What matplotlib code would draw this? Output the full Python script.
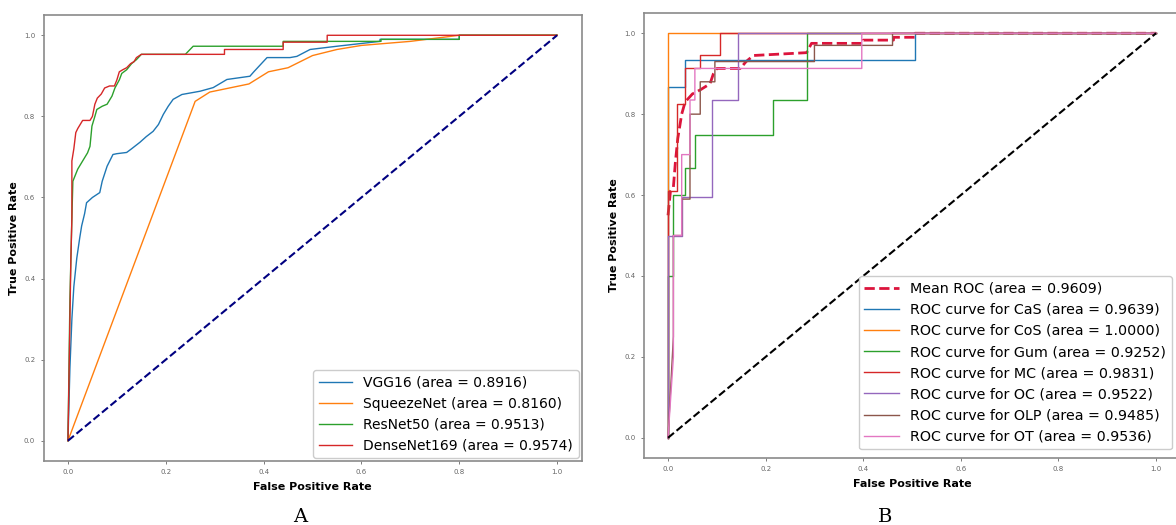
import matplotlib
matplotlib.use("Agg")
import matplotlib.pyplot as plt

# --- panel A: ROC curves of the four CNN backbones ---
vgg_fpr = [0, 0.004, 0.008, 0.012, 0.018, 0.024, 0.028, 0.034, 0.038, 0.05, 0.065, 0.07, 0.08, 0.092,
           0.1, 0.12, 0.13, 0.147, 0.16, 0.174, 0.185, 0.195, 0.205, 0.215, 0.233, 0.27, 0.297, 0.325,
           0.372, 0.38, 0.407, 0.454, 0.468, 0.495, 0.55, 0.638, 0.638, 0.80, 0.80, 1.0]
vgg_tpr = [0, 0.18, 0.30, 0.38, 0.45, 0.50, 0.53, 0.56, 0.587, 0.60, 0.612, 0.64, 0.677, 0.706,
           0.708, 0.711, 0.72, 0.736, 0.75, 0.763, 0.78, 0.805, 0.825, 0.842, 0.854, 0.862, 0.871, 0.891,
           0.899, 0.91, 0.945, 0.945, 0.948, 0.965, 0.973, 0.985, 0.99, 0.99, 1.0, 1.0]

squeeze_fpr = [0, 0.26, 0.29, 0.33, 0.37, 0.41, 0.45, 0.5, 0.55, 0.6, 0.7, 0.8, 1.0]
squeeze_tpr = [0, 0.837, 0.86, 0.87, 0.88, 0.91, 0.92, 0.95, 0.965, 0.975, 0.985, 1.0, 1.0]

resnet_fpr = [0, 0.004, 0.008, 0.01, 0.02, 0.03, 0.04, 0.045, 0.049, 0.055, 0.059, 0.07, 0.08, 0.09,
              0.096, 0.105, 0.11, 0.12, 0.13, 0.14, 0.15, 0.24, 0.256, 0.44, 0.44, 0.64, 0.64, 0.80,
              0.80, 1.0]
resnet_tpr = [0, 0.35, 0.55, 0.64, 0.67, 0.69, 0.71, 0.726, 0.776, 0.80, 0.817, 0.825, 0.83, 0.85,
              0.87, 0.89, 0.906, 0.915, 0.93, 0.94, 0.953, 0.953, 0.973, 0.973, 0.985, 0.985, 0.99, 0.99,
              1.0, 1.0]

dense_fpr = [0, 0.004, 0.006, 0.008, 0.008, 0.012, 0.016, 0.02, 0.03, 0.045, 0.05, 0.055, 0.06, 0.068,
             0.075, 0.085, 0.095, 0.1, 0.105, 0.112, 0.12, 0.128, 0.135, 0.14, 0.15, 0.32, 0.32, 0.44,
             0.44, 0.53, 0.53, 1.0]
dense_tpr = [0, 0.30, 0.45, 0.55, 0.69, 0.72, 0.76, 0.77, 0.79, 0.79, 0.80, 0.83, 0.845, 0.855,
             0.87, 0.875, 0.875, 0.89, 0.91, 0.915, 0.92, 0.93, 0.935, 0.945, 0.953, 0.953, 0.965, 0.965,
             0.983, 0.983, 1.0, 1.0]

model_names = ["VGG16", "SqueezeNet", "ResNet50", "DenseNet169"]
model_auc = [0.8916, 0.8160, 0.9513, 0.9574]

# --- panel B: per-class ROC curves ---
mean_fpr = [0, 0.005, 0.011, 0.015, 0.02, 0.028, 0.035, 0.05, 0.066, 0.086, 0.093, 0.1, 0.148, 0.16,
            0.175, 0.284, 0.294, 0.40, 0.40, 0.462, 0.462, 0.506, 0.506, 1.0]
mean_tpr = [0.55, 0.61, 0.62, 0.68, 0.74, 0.80, 0.83, 0.85, 0.86, 0.875, 0.90, 0.913, 0.913, 0.93,
            0.945, 0.952, 0.975, 0.975, 0.983, 0.983, 0.99, 0.99, 1.0, 1.0]

cas_fpr = [0, 0, 0.035, 0.035, 0.506, 0.506, 1.0]
cas_tpr = [0, 0.867, 0.867, 0.933, 0.933, 1.0, 1.0]

cos_fpr = [0, 0, 1.0]
cos_tpr = [0, 1.0, 1.0]

gum_fpr = [0, 0, 0.011, 0.011, 0.035, 0.035, 0.055, 0.055, 0.216, 0.216, 0.284, 0.284, 1.0]
gum_tpr = [0, 0.4, 0.4, 0.6, 0.6, 0.666, 0.666, 0.748, 0.748, 0.835, 0.835, 1.0, 1.0]

mc_fpr = [0, 0, 0.018, 0.018, 0.035, 0.035, 0.066, 0.066, 0.107, 0.107, 1.0]
mc_tpr = [0, 0.61, 0.61, 0.826, 0.826, 0.913, 0.913, 0.946, 0.946, 1.0, 1.0]

oc_fpr = [0, 0, 0.028, 0.028, 0.09, 0.09, 0.144, 0.144, 1.0]
oc_tpr = [0, 0.5, 0.5, 0.596, 0.596, 0.835, 0.835, 1.0, 1.0]

olp_fpr = [0, 0.011, 0.011, 0.028, 0.028, 0.045, 0.045, 0.066, 0.066, 0.096, 0.096, 0.30, 0.30,
           0.46, 0.46, 1.0]
olp_tpr = [0, 0.25, 0.5, 0.5, 0.59, 0.59, 0.8, 0.8, 0.88, 0.88, 0.93, 0.93, 0.97, 0.97, 1.0, 1.0]

ot_fpr = [0, 0.011, 0.011, 0.028, 0.028, 0.045, 0.045, 0.055, 0.055, 0.397, 0.397, 1.0]
ot_tpr = [0, 0.2, 0.5, 0.5, 0.7, 0.7, 0.835, 0.835, 0.913, 0.913, 1.0, 1.0]

class_names = ["CaS", "CoS", "Gum", "MC", "OC", "OLP", "OT"]
class_auc = [0.9639, 1.0000, 0.9252, 0.9831, 0.9522, 0.9485, 0.9536]
mean_auc = 0.9609

fig = plt.figure(figsize=(11.76, 5.25), dpi=100)
ax1 = fig.add_axes([0.037, 0.1219, 0.4575, 0.8495])
ax2 = fig.add_axes([0.5473, 0.1276, 0.4565, 0.8476])

colors = ["tab:blue", "tab:orange", "tab:green", "tab:red", "tab:purple", "tab:brown", "tab:pink"]

curves_a = [(vgg_fpr, vgg_tpr), (squeeze_fpr, squeeze_tpr), (resnet_fpr, resnet_tpr), (dense_fpr, dense_tpr)]
for (fpr, tpr), name, auc, c in zip(curves_a, model_names, model_auc, colors):
    ax1.plot(fpr, tpr, color=c, lw=1, label=f"{name} (area = {auc:.4f})")
ax1.plot([0, 1], [0, 1], color="navy", lw=1.5, linestyle="--")

ax2.plot(mean_fpr, mean_tpr, color="crimson", lw=2, linestyle="--", label=f"Mean ROC (area = {mean_auc:.4f})")
curves_b = [(cas_fpr, cas_tpr), (cos_fpr, cos_tpr), (gum_fpr, gum_tpr), (mc_fpr, mc_tpr),
            (oc_fpr, oc_tpr), (olp_fpr, olp_tpr), (ot_fpr, ot_tpr)]
for (fpr, tpr), name, auc, c in zip(curves_b, class_names, class_auc, colors):
    ax2.plot(fpr, tpr, color=c, lw=1, label=f"ROC curve for {name} (area = {auc:.4f})")
ax2.plot([0, 1], [0, 1], color="black", lw=1.5, linestyle="--")

for ax in (ax1, ax2):
    ax.set_xlim(-0.05, 1.05)
    ax.set_ylim(-0.05, 1.05)
    ax.set_xlabel("False Positive Rate", fontsize=8, fontweight="bold", labelpad=5)
    ax.set_ylabel("True Positive Rate", fontsize=8, fontweight="bold", labelpad=3.5)
    ax.tick_params(labelsize=5, length=2.5, width=0.6, colors="#666666")
    for s in ax.spines.values():
        s.set_color("#8a8a8a")
        s.set_linewidth(1.2)

ax1.legend(loc="lower right", fontsize=10, handlelength=2.4, labelspacing=0.5,
           borderaxespad=0.2, framealpha=1)
ax2.legend(loc="lower right", fontsize=10.3, handlelength=2.4, labelspacing=0.5,
           borderaxespad=0.6, framealpha=1)

fig.text(0.255, 0.016, "A", fontsize=14, family="DejaVu Serif", ha="center", va="center")
fig.text(0.753, 0.016, "B", fontsize=14, family="DejaVu Serif", ha="center", va="center")

fig.savefig("out.png", dpi=100)
